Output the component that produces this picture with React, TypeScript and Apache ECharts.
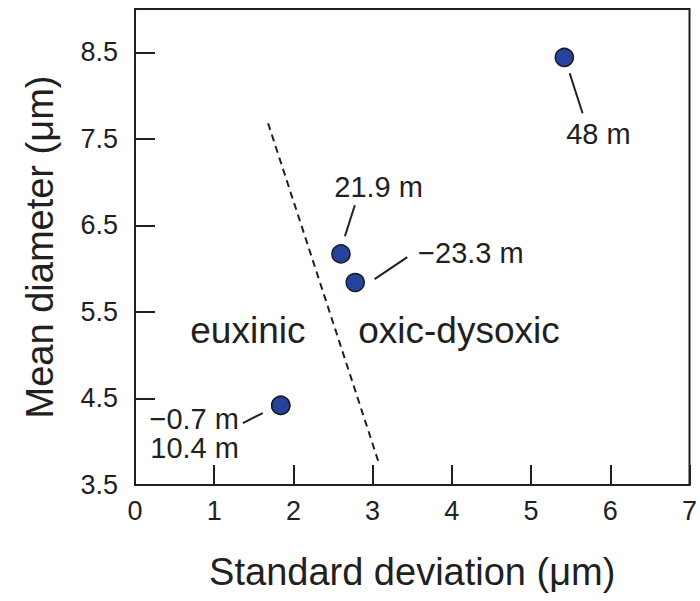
import React, { useEffect, useRef } from "react";
import * as echarts from "echarts";

const FONT = "'Liberation Sans', Arial, Helvetica, sans-serif";
const INK = "#231f20";

// Samples: [std dev (µm), mean diameter (µm), depth label]
const sampleNames = ["48 m", "21.9 m", "−23.3 m", "−0.7 m", "10.4 m"];
const sampleStd = [5.42, 2.6, 2.78, 1.84, 1.84];
const sampleMean = [8.44, 6.17, 5.84, 4.42, 4.42];

// Label anchor positions (data coords); the last entry stacks two depths
const labelTexts = ["48 m", "21.9 m", "−23.3 m", ["−0.7 m", "10.4 m"].join("\n")];
const labelX = [5.85, 3.075, 4.24, 1.3125];
const labelY = [7.56, 6.94, 6.18, 4.095];
const labelAlign = ["center", "center", "center", "right"];
const leaders: number[][][] = [
  [[5.4875, 8.257], [5.65, 7.796]],
  [[2.775, 6.733], [2.65, 6.375]],
  [[3.025, 5.879], [3.4375, 6.133]],
  [[1.3625, 4.216], [1.6125, 4.331]],
];

// Boundary between facies
const boundary = [[1.68, 7.68], [3.08, 3.75]];
const regionNames = ["euxinic", "oxic-dysoxic"];
const regionX = [1.425, 4.09];
const regionY = [5.28, 5.28];

const xTicks = [0, 1, 2, 3, 4, 5, 6, 7];
const yTicks = [3.5, 4.5, 5.5, 6.5, 7.5, 8.5];

export default function App() {
  const ref = useRef<HTMLDivElement>(null);
  useEffect(() => {
    document.body.style.margin = "0";
    if (!ref.current) return;
    const chart = echarts.init(ref.current, null, { renderer: "svg" });
    const series: any[] = [];
    series.push({
      type: "line",
      data: boundary,
      symbol: "none",
      lineStyle: { color: INK, width: 2, type: [7, 5] },
      z: 2,
    });
    leaders.forEach((seg) => {
      series.push({
        type: "line",
        data: seg,
        symbol: "none",
        lineStyle: { color: INK, width: 2 },
        z: 2,
      });
    });
    series.push({
      type: "scatter",
      data: sampleStd.map((x, i) => ({ value: [x, sampleMean[i]], name: sampleNames[i] })),
      symbolSize: 18,
      itemStyle: { color: "#25439c", borderColor: "#1a1a1a", borderWidth: 1.5, opacity: 1 },
      z: 5,
    });
    series.push({
      type: "scatter",
      data: labelTexts.map((t, i) => ({
        value: [labelX[i], labelY[i]],
        name: t,
        label: { align: labelAlign[i] },
      })),
      symbolSize: 1,
      itemStyle: { color: "transparent", opacity: 1 },
      label: {
        show: true,
        position: "inside",
        formatter: "{b}",
        fontFamily: FONT,
        fontSize: 29,
        lineHeight: 29,
        color: INK,
      },
      z: 6,
    });
    series.push({
      type: "scatter",
      data: regionNames.map((t, i) => ({ value: [regionX[i], regionY[i]], name: t })),
      symbolSize: 1,
      itemStyle: { color: "transparent", opacity: 1 },
      label: {
        show: true,
        position: "inside",
        formatter: "{b}",
        fontFamily: FONT,
        fontSize: 37,
        color: INK,
      },
      z: 6,
    });
    chart.setOption({
      animation: false,
      backgroundColor: "#ffffff",
      grid: {
        left: 135,
        right: 6,
        top: 9,
        bottom: 116,
        show: true,
        borderColor: INK,
        borderWidth: 2,
      },
      xAxis: {
        type: "value",
        min: 0,
        max: 7,
        interval: 1,
        name: "Standard deviation (μm)",
        nameLocation: "middle",
        nameGap: 68,
        nameTextStyle: { fontFamily: FONT, fontSize: 38, color: INK },
        axisLine: { show: true, lineStyle: { color: INK, width: 2 } },
        axisTick: { show: true, inside: true, length: 20, lineStyle: { color: INK, width: 2 }, customValues: xTicks },
        axisLabel: { fontFamily: FONT, fontSize: 27, color: INK, margin: 12, customValues: xTicks },
        splitLine: { show: false },
      },
      yAxis: {
        type: "value",
        min: 3.5,
        max: 9,
        name: "Mean diameter (μm)",
        nameLocation: "middle",
        nameGap: 76,
        nameTextStyle: { fontFamily: FONT, fontSize: 38, color: INK },
        axisLine: { show: true, lineStyle: { color: INK, width: 2 } },
        axisTick: { show: true, inside: true, length: 20, lineStyle: { color: INK, width: 2 }, customValues: yTicks },
        axisLabel: {
          fontFamily: FONT,
          fontSize: 27,
          color: INK,
          margin: 17,
          customValues: yTicks,
          formatter: (v: number) => v.toFixed(1),
        },
        splitLine: { show: false },
      },
      series,
    });
    return () => chart.dispose();
  }, []);
  return <div ref={ref} style={{ width: 700, height: 601 }} />;
}
